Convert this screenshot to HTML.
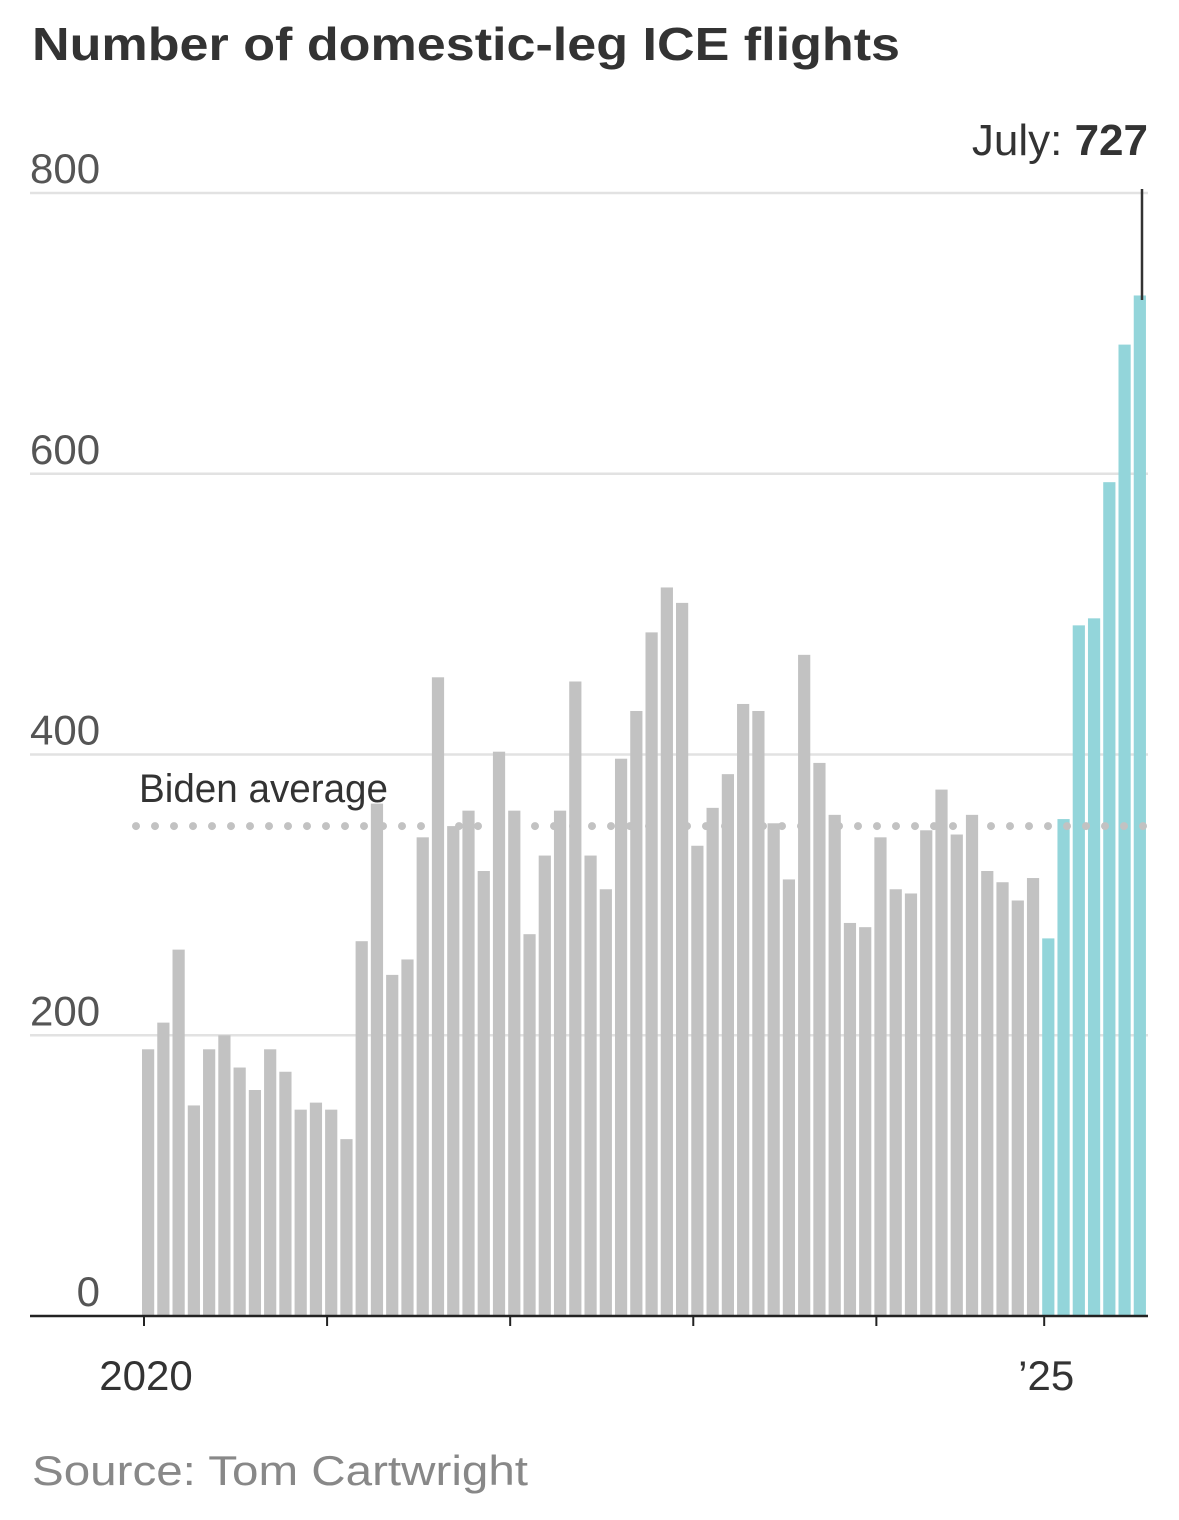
<!DOCTYPE html>
<html><head><meta charset="utf-8"><style>
html,body{margin:0;padding:0;background:#fff;}
svg{display:block;}
text{font-family:"Liberation Sans",sans-serif;}
</style></head><body>
<svg id="chart" width="1179" height="1520" viewBox="0 0 1179 1520" xmlns="http://www.w3.org/2000/svg">
<text x="32" y="60" font-size="46" font-weight="bold" fill="#333" textLength="868" lengthAdjust="spacingAndGlyphs">Number of domestic-leg ICE flights</text>
<g id="grid"></g>
<g id="ylabels"></g>
<g id="bars"></g>
<g id="avg"></g>
<g id="xaxis"></g>
<line x1="1142" y1="189" x2="1142" y2="300" stroke="#333" stroke-width="2.5"/>
<text x="1148" y="155" font-size="44" fill="#333" text-anchor="end"><tspan>July: </tspan><tspan font-weight="bold">727</tspan></text>
<text x="32" y="1485" font-size="42" fill="#888" textLength="496" lengthAdjust="spacingAndGlyphs">Source: Tom Cartwright</text>
</svg>
<script>
const grayValues = [190,209,261,150,190,200,177,161,190,174,147,152,147,126,267,365,243,254,341,455,349,360,317,402,360,272,328,360,452,328,304,397,431,487,519,508,335,362,386,436,431,351,311,471,394,357,280,277,341,304,301,346,375,343,357,317,309,296,312];
const tealValues = [269,354,492,497,594,692,727];
const yTicks = [0,200,400,600,800];
const xTickLabels = ["2020","","","","","\u201925"];
const xTickIndex = [0,12,24,36,48,59];
const bidenAverage = 349;

const NS = "http://www.w3.org/2000/svg";
const y0 = 1316, yPerUnit = (1316-193)/800;
const xLeft = 141, xRight = 1148;
const all = grayValues.concat(tealValues);
const pitch = (xRight - xLeft) / all.length;
const barW = pitch * 0.8;
function yScale(v){ return y0 - v * yPerUnit; }
function xScale(i){ return xLeft + i * pitch; }
function mk(tag, attrs, parent){ const e=document.createElementNS(NS,tag); for(const k in attrs) e.setAttribute(k,attrs[k]); parent.appendChild(e); return e; }

const grid=document.getElementById('grid'), yl=document.getElementById('ylabels');
yTicks.forEach(t=>{
  if(t>0){
    const l=mk('line',{x1:30,x2:1148,y1:yScale(t),y2:yScale(t),stroke:'#e2e2e2','stroke-width':2.5},grid);
    
    
  }
  const tx=mk('text',{x:t===0?100:30,y:yScale(t)-10,'font-size':42,fill:'#555','text-anchor':t===0?'end':'start'},yl);
  tx.textContent=String(t);
  
  
});

const bars=document.getElementById('bars');
all.forEach((v,i)=>{
  const teal = i >= grayValues.length;
  const r=mk('rect',{x:xScale(i)+1,y:yScale(v),width:barW,height:y0-yScale(v),fill:teal?'#93d5da':'#c2c2c2'},bars);
  
  
});

const avg=document.getElementById('avg');
const al=mk('line',{x1:136,x2:1148,y1:yScale(bidenAverage),y2:yScale(bidenAverage),stroke:'#c2c2c2','stroke-width':8,'stroke-linecap':'round','stroke-dasharray':'0 19'},avg);


const at=mk('text',{x:139,y:yScale(bidenAverage)-24,'font-size':40,fill:'#333',textLength:249,lengthAdjust:'spacingAndGlyphs'},avg);
at.textContent='Biden average';



const xa=document.getElementById('xaxis');
const base=mk('line',{x1:30,x2:1148,y1:y0,y2:y0,stroke:'#222','stroke-width':2.5},xa);


xTickIndex.forEach((idx,k)=>{
  const x=xScale(idx)+3;
  const tk=mk('line',{x1:x,x2:x,y1:y0,y2:y0+10,stroke:'#222','stroke-width':2},xa);
  
  
  if(xTickLabels[k]){
    const t=mk('text',{x:x+2,y:1390,'font-size':42,fill:'#333','text-anchor':'middle'},xa);
    t.textContent=xTickLabels[k];
    
    
  }
});
</script>
</body></html>
